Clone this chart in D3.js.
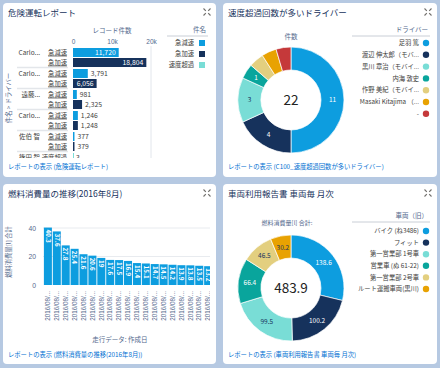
<!DOCTYPE html>
<html>
<head>
<meta charset="utf-8">
<script src="https://cdn.jsdelivr.net/npm/d3@7"></script>
<style>
  body { margin: 0; background: #b6c9e2; }
  svg { display: block; font-family: "Noto Sans CJK JP", "Noto Sans", sans-serif; }
</style>
</head>
<body>
<svg id="dash" width="440" height="368"></svg>
<script>
// --- 危険運転レポート
var drivers = ["Carlo...", "Carlo...", "遠藤...", "Carlo...", "佐伯 智", "篠田 智"];
var rapidDecel = [11720, 3791, 981, 1246, 377, null];
var rapidAccel = [18804, 6056, 2325, 1248, 379, null];
var speeding = [null, null, null, null, null, 3];
var eventNames = ["急減速", "急加速", "速度超過"];
var eventTicks = [0, 10000, 20000];

// --- 速度超過回数が多いドライバー
var topDrivers = ["足羽 篤", "渡辺 伸太郎（モバ...", "黒川 章治（モバイ...", "内海 敦史",
                  "作野 美紀（モバイ...", "Masaki Kitajima （...", "-"];
var speedCounts = [11, 4, 3, 1, 1, 1, 1];

// --- 燃料消費量の推移
var fuelDates = d3.range(19).map(function() { return "2016/08/..."; });
var fuelValues = [40.3, 37.6, 27.8, 25.4, 21.6, 20.6, 19, 17.6, 17.5, 16.9,
                  15.4, 15.1, 14.7, 14.5, 14.2, 13.9, 13.8, 13.5, 13.2];
var fuelTicks = [0, 20, 40];

// --- 車両利用報告書
var vehicles = ["バイク (ね3486)", "フィット", "第一営業部 1号車", "営業車 (ぬ 61-22)",
                "第一営業部 2号車", "ルート運搬車両(黒川)"];
var vehicleFuel = [138.6, 100.2, 99.5, 66.4, 46.5, 30.2];
var vehicleTotal = "483.9";

var palette = ["#0d9ddf", "#16325c", "#79ddd6", "#09a59c", "#e3cf7f", "#e8a202", "#c5393a"];
var darkText = { "#79ddd6": 1, "#e3cf7f": 1, "#e8a202": 1 };
var titleColor = "#16325c", greyText = "#54698d", bodyText = "#3e3e3c", linkColor = "#0070d2";

var svg = d3.select("#dash");
var defs = svg.append("defs");

function panel(x, y, w, h, title, link, linkY) {
    svg.append("rect")
        .attr("x", x).attr("y", y).attr("width", w).attr("height", h)
        .attr("rx", 4).attr("fill", "#fff");
    svg.append("text")
        .attr("x", x + 5).attr("y", y + 13)
        .attr("font-size", 8.5).attr("fill", titleColor)
        .text(title);
    svg.append("text")
        .attr("x", x + 5).attr("y", linkY)
        .attr("font-size", 6.3).attr("fill", linkColor)
        .text(link);
    // expand icon
    var cx = x + w - 9, cy = y + 9;
    var ic = svg.append("g").attr("stroke", "#706e6b").attr("stroke-width", 1.1);
    [[-1, -1], [1, -1], [-1, 1], [1, 1]].forEach(function(s) {
        ic.append("line")
            .attr("x1", cx + s[0] * 3.5).attr("y1", cy + s[1] * 3.5)
            .attr("x2", cx + s[0] * 1.2).attr("y2", cy + s[1] * 1.2);
    });
}

function legend(title, names, colors, o) {
    var g = svg.append("g");
    g.append("text")
        .attr("x", o.right).attr("y", o.titleY)
        .attr("text-anchor", "end").attr("font-size", 6.5).attr("fill", greyText)
        .text(title);
    g.append("line")
        .attr("x1", o.lineX).attr("x2", o.right + 2)
        .attr("y1", o.titleY + 4).attr("y2", o.titleY + 4)
        .attr("stroke", "#c9ced6").attr("stroke-width", 1);
    var item = g.selectAll("g.item").data(names).enter().append("g")
        .attr("transform", function(d, i) { return "translate(0," + (o.top + i * o.step) + ")"; });
    item.append("text")
        .attr("x", o.textX).attr("dy", "0.35em")
        .attr("text-anchor", "end").attr("font-size", 6.3).attr("fill", bodyText)
        .text(function(d) { return d; });
    if (o.square) {
        item.append("rect")
            .attr("x", o.markX - 3).attr("y", -3).attr("width", 6).attr("height", 6)
            .attr("fill", function(d, i) { return colors[i]; });
    } else {
        item.append("circle")
            .attr("cx", o.markX).attr("r", 3.2)
            .attr("fill", function(d, i) { return colors[i]; });
    }
}

function donut(values, cx, cy, showLabel, centerText) {
    var pie = d3.pie().sort(null).value(function(d) { return d; });
    var arc = d3.arc().innerRadius(30).outerRadius(53);
    var g = svg.append("g").attr("transform", "translate(" + cx + "," + cy + ")");
    var arcs = pie(values);
    g.selectAll("path").data(arcs).enter().append("path")
        .attr("d", arc)
        .attr("fill", function(d) { return palette[d.index]; })
        .attr("stroke", "#fff").attr("stroke-width", 0.7);
    g.selectAll("text.v").data(arcs.filter(showLabel)).enter().append("text")
        .attr("class", "v")
        .attr("transform", function(d) { return "translate(" + arc.centroid(d) + ")"; })
        .attr("text-anchor", "middle").attr("dy", "0.35em")
        .attr("font-size", 6.5)
        .attr("fill", function(d) { return darkText[palette[d.index]] ? titleColor : "#fff"; })
        .text(function(d) { return d.data; });
    g.append("text")
        .attr("text-anchor", "middle").attr("dy", "0.36em")
        .attr("font-size", 13.5).attr("fill", "#222")
        .text(centerText);
}

panel(3, 3, 213, 174, "危険運転レポート", "レポートの表示 (危険運転レポート)", 169);
panel(223, 3, 214, 174, "速度超過回数が多いドライバー", "レポートの表示 (C100_速度超過回数が多いドライバー)", 169);
panel(3, 184, 213, 180, "燃料消費量の推移(2016年8月)", "レポートの表示 (燃料消費量の推移(2016年8月))", 357);
panel(223, 184, 214, 180, "車両利用報告書 車両毎 月次", "レポートの表示 (車両利用報告書 車両毎 月次)", 357);

/* ---------------- panel 1 : grouped horizontal bars ---------------- */
var seriesList = [rapidDecel, rapidAccel, speeding];
var groups = drivers.map(function(name, i) {
    var rows = [];
    seriesList.forEach(function(s, k) {
        if (s[i] != null) rows.push({ cat: eventNames[k], value: s[i], color: palette[k] });
    });
    return { name: name, rows: rows };
});

var x1 = d3.scaleLinear().domain([0, 20000]).range([73, 151]);
var yGroup = d3.scaleBand().domain(d3.range(groups.length)).range([47, 47 + groups.length * 21]);
var yRow = d3.scaleBand().domain([0, 1]).range([1, 20]).paddingInner(0.1);

svg.append("text")
    .attr("x", 112).attr("y", 33).attr("text-anchor", "middle")
    .attr("font-size", 6.5).attr("fill", greyText).text("レコード件数");

var ax1 = svg.append("g").attr("transform", "translate(0,46)")
    .call(d3.axisTop(x1).tickValues(eventTicks).tickSize(0).tickPadding(2)
        .tickFormat(d3.format("~s")));
ax1.select(".domain").remove();
ax1.selectAll("text").attr("font-size", 6.5).attr("fill", greyText).attr("font-family", null);

svg.append("line")
    .attr("x1", x1(20000)).attr("x2", x1(20000)).attr("y1", 46).attr("y2", 158)
    .attr("stroke", "#e2e6ec");

svg.append("text")
    .attr("transform", "translate(11,98) rotate(-90)")
    .attr("text-anchor", "middle").attr("font-size", 6.3).attr("fill", greyText)
    .text("件名 > ドライバー");

defs.append("clipPath").attr("id", "clip1")
    .append("rect").attr("x", 0).attr("y", 46).attr("width", 216).attr("height", 112);

var body1 = svg.append("g").attr("clip-path", "url(#clip1)");
var grp = body1.selectAll("g.grp").data(groups).enter().append("g")
    .attr("transform", function(d, i) { return "translate(0," + yGroup(i) + ")"; });

grp.filter(function(d, i) { return i > 0; }).append("line")
    .attr("x1", 17).attr("x2", 68).attr("y1", -0.5).attr("y2", -0.5)
    .attr("stroke", "#e3e6ea").attr("stroke-width", 1.5);

grp.append("text")
    .attr("x", 40).attr("y", yRow(0) + yRow.bandwidth() / 2).attr("dy", "0.35em")
    .attr("text-anchor", "end").attr("font-size", 6.5).attr("fill", bodyText)
    .text(function(d) { return d.name; });

var row = grp.selectAll("g.row").data(function(d) { return d.rows; }).enter().append("g")
    .attr("transform", function(d, i) { return "translate(0," + yRow(i) + ")"; });

row.append("text")
    .attr("x", 67).attr("y", yRow.bandwidth() / 2).attr("dy", "0.35em")
    .attr("text-anchor", "end").attr("font-size", 6.3).attr("fill", bodyText)
    .attr("text-decoration", "underline")
    .text(function(d) { return d.cat; });

row.append("rect")
    .attr("x", x1(0)).attr("height", yRow.bandwidth())
    .attr("width", function(d) { return Math.max(1, x1(d.value) - x1(0)); })
    .attr("fill", function(d) { return d.color; });

row.append("text")
    .attr("y", yRow.bandwidth() / 2).attr("dy", "0.36em")
    .attr("font-size", 6.8)
    .text(function(d) { return d3.format(",")(d.value); })
    .each(function(d) {
        var t = d3.select(this), w = this.getComputedTextLength(), bw = x1(d.value) - x1(0);
        if (w + 6 < bw) {
            t.attr("x", x1(d.value) - 3).attr("text-anchor", "end").attr("fill", "#fff");
        } else {
            t.attr("x", x1(d.value) + 3).attr("text-anchor", "start").attr("fill", bodyText);
        }
    });

legend("件名", eventNames, palette.slice(0, 3),
    { right: 206, titleY: 32, lineX: 167, top: 43, step: 11, textX: 194, markX: 202, square: true });

/* ---------------- panel 2 : donut ---------------- */
svg.append("text")
    .attr("x", 291).attr("y", 39).attr("text-anchor", "middle")
    .attr("font-size", 6.5).attr("fill", greyText).text("件数");
donut(speedCounts, 291, 100, function(d) { return d.index < 4; }, d3.sum(speedCounts));
legend("ドライバー", topDrivers, palette,
    { right: 428, titleY: 32, lineX: 352, top: 43, step: 11.8, textX: 419, markX: 426 });

/* ---------------- panel 3 : vertical bars ---------------- */
var x3 = d3.scaleBand().domain(d3.range(fuelValues.length)).range([43, 43 + fuelValues.length * 8.95]).padding(0.1);
var y3 = d3.scaleLinear().domain([0, 40]).range([285, 228]);

svg.append("g").selectAll("line").data(fuelTicks.slice(1)).enter().append("line")
    .attr("x1", 43).attr("x2", 210)
    .attr("y1", function(d) { return y3(d); }).attr("y2", function(d) { return y3(d); })
    .attr("stroke", "#e8ebef");

var ay3 = svg.append("g").attr("transform", "translate(37,0)")
    .call(d3.axisLeft(y3).tickValues(fuelTicks).tickSize(0).tickPadding(1));
ay3.select(".domain").remove();
ay3.selectAll("text").attr("font-size", 6.8).attr("fill", greyText).attr("font-family", null);

svg.append("text")
    .attr("transform", "translate(11,252) rotate(-90)")
    .attr("text-anchor", "middle").attr("font-size", 6.3).attr("fill", greyText)
    .text("燃料消費量[l] 合計");

defs.append("clipPath").attr("id", "clip3")
    .append("rect").attr("x", 0).attr("y", 200).attr("width", 210).attr("height", 140);

var body3 = svg.append("g").attr("clip-path", "url(#clip3)");
body3.selectAll("rect").data(fuelValues).enter().append("rect")
    .attr("x", function(d, i) { return x3(i); })
    .attr("y", function(d) { return y3(d); })
    .attr("width", x3.bandwidth())
    .attr("height", function(d) { return y3(0) - y3(d); })
    .attr("fill", palette[0]);

body3.selectAll("text.v").data(fuelValues).enter().append("text")
    .attr("class", "v")
    .attr("transform", function(d, i) {
        return "translate(" + (x3(i) + x3.bandwidth() / 2) + "," + (y3(d) + 2) + ") rotate(90)";
    })
    .attr("dy", "0.35em").attr("font-size", 6.3).attr("font-weight", "bold").attr("fill", "#fff")
    .text(function(d) { return d; });

var ax3 = body3.append("g").attr("transform", "translate(0,287)")
    .call(d3.axisBottom(x3).tickSize(0).tickFormat(function(i) { return fuelDates[i]; }));
ax3.select(".domain").remove();
ax3.selectAll("text")
    .attr("transform", "rotate(-90)")
    .attr("x", -4).attr("y", 0).attr("dy", "0.35em")
    .attr("text-anchor", "end")
    .attr("font-size", 6.3).attr("fill", greyText).attr("font-family", null);

svg.append("text")
    .attr("x", 120).attr("y", 342).attr("text-anchor", "middle")
    .attr("font-size", 6.5).attr("fill", greyText).text("走行データ: 作成日");

/* ---------------- panel 4 : donut ---------------- */
svg.append("text")
    .attr("x", 287).attr("y", 225).attr("text-anchor", "middle")
    .attr("font-size", 6).attr("fill", greyText).text("燃料消費量[l] 合計:");
donut(vehicleFuel, 291, 288, function() { return true; }, vehicleTotal);
legend("車両（旧）", vehicles, palette,
    { right: 428, titleY: 218, lineX: 352, top: 231, step: 11.6, textX: 419, markX: 426 });
</script>
</body>
</html>
